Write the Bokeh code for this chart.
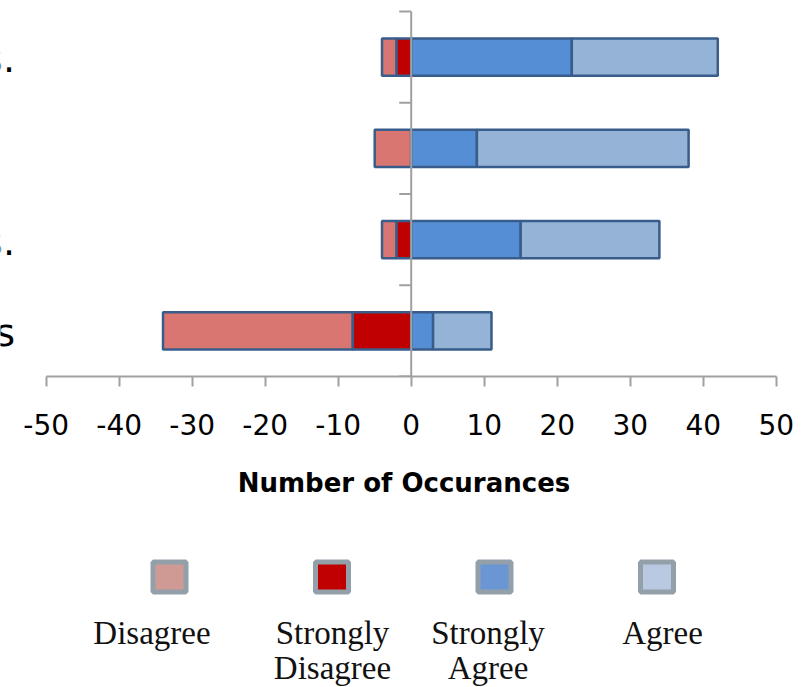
from bokeh.plotting import figure
from bokeh.models import Range1d, LinearAxis, FixedTicker, ColumnDataSource
from bokeh.layouts import column
from bokeh.embed import file_html
from bokeh.resources import INLINE
from bokeh.core.properties import value

# ---------------- data (top to bottom) ----------------
categories = ["s.", "", "s.", "s"]          # visible fragments of the (clipped) category labels
disagree = [2, 5, 2, 26]
strongly_disagree = [2, 0, 2, 8]
strongly_agree = [22, 9, 15, 3]
agree = [20, 29, 19, 8]

x_ticks = [-50, -40, -30, -20, -10, 0, 10, 20, 30, 40, 50]
x_title = "Number of Occurances"
legend_labels = ["Disagree", "Strongly\nDisagree", "Strongly\nAgree", "Agree"]

# ---------------- styles ----------------
C_D = "#d97672"
C_SD = "#c00000"
C_SA = "#558ed5"
C_A = "#95b3d7"
LEG_COLORS = ["#cf9a93", "#c00000", "#6a96d4", "#b9c9e2"]
OUTLINE = "#385d8a"
AXIS_C = "#a0a0a0"

W = 807
AX_L, AX_W = 45.7, 730          # pixel span of the -50..50 axis
PAD_T = 2                       # px above the top category boundary
FRAME_T, CAT_H = 9, 367         # frame top, height of the category area
BOTTOM = 145
H_MAIN = FRAME_T + PAD_T + CAT_H + BOTTOM - PAD_T
H_LEG = 687 - H_MAIN

n = len(categories)
ypos = [n - i - 0.5 for i in range(n)]
px_x = AX_W / (x_ticks[-1] - x_ticks[0])
px_y = CAT_H / n

src = ColumnDataSource(dict(
    y=ypos,
    d_l=[-(sd + d) for d, sd in zip(disagree, strongly_disagree)],
    d_r=[-sd for sd in strongly_disagree],
    sd_l=[-sd for sd in strongly_disagree],
    zero=[0] * n,
    sa_r=strongly_agree,
    a_r=[sa + a for sa, a in zip(strongly_agree, agree)],
))

x_start = x_ticks[0] - AX_L / px_x
x_end = x_ticks[-1] + (W - AX_L - AX_W) / px_x
p = figure(width=W, height=H_MAIN, output_backend="svg", toolbar_location=None,
           x_range=Range1d(x_start, x_end), y_range=Range1d(0, n + PAD_T / px_y),
           x_axis_location=None, y_axis_location=None,
           min_border_left=0, min_border_right=0,
           min_border_top=FRAME_T, min_border_bottom=BOTTOM)
p.outline_line_color = None
p.xgrid.visible = False
p.ygrid.visible = False

BAR_H = 0.41
kw = dict(height=BAR_H, line_color=OUTLINE, line_width=2.5, source=src)
p.hbar(y="y", left="d_l", right="d_r", fill_color=C_D, **kw)
p.hbar(y="y", left="sd_l", right="zero", fill_color=C_SD, **kw)
p.hbar(y="y", left="zero", right="sa_r", fill_color=C_SA, **kw)
p.hbar(y="y", left="sa_r", right="a_r", fill_color=C_A, **kw)

# vertical axis line at x = 0 with outward ticks at category boundaries
bounds = list(range(n + 1))
p.segment(x0=[0], y0=[0], x1=[0], y1=[n], line_color=AXIS_C, line_width=2)
p.segment(x0=[-12 / px_x] * len(bounds), y0=bounds, x1=[0] * len(bounds), y1=bounds,
          line_color=AXIS_C, line_width=2)

# bottom axis (limited to -50..50)
xa = LinearAxis(ticker=FixedTicker(ticks=x_ticks, minor_ticks=[]), bounds=(x_ticks[0], x_ticks[-1]))
xa.major_label_overrides = {t: str(t) for t in x_ticks}
xa.axis_line_color = AXIS_C
xa.axis_line_width = 2
xa.major_tick_line_color = AXIS_C
xa.major_tick_line_width = 2
xa.major_tick_out = 10
xa.major_tick_in = 0
xa.minor_tick_line_color = None
xa.major_label_text_font = "DejaVu Sans"
xa.major_label_text_font_size = "28px"
xa.major_label_text_color = "#000000"
xa.major_label_standoff = 27
xa.axis_label = x_title
xa.axis_label_text_font = "DejaVu Sans"
xa.axis_label_text_font_size = "26px"
xa.axis_label_text_font_style = "bold"
xa.axis_label_text_color = "#000000"
xa.axis_label_standoff = 30
p.add_layout(xa, "below")

# clipped category labels on the far left
lab_x = x_start + 14.5 / px_x
lab_y = [yy - 2 / px_y for yy in ypos]
p.text(x=[lab_x] * n, y=lab_y, text=categories, text_align="right",
       text_baseline="alphabetic", text_font=value("DejaVu Sans"),
       text_font_size="38px", text_color="#000000")

# ---------------- legend figure (page-pixel coords) ----------------
lg = figure(width=W, height=H_LEG, output_backend="svg", toolbar_location=None,
            x_range=Range1d(0, W), y_range=Range1d(H_MAIN + H_LEG, H_MAIN),
            x_axis_location=None, y_axis_location=None,
            min_border_left=0, min_border_right=0,
            min_border_top=0, min_border_bottom=0)
lg.outline_line_color = None
lg.xgrid.visible = False
lg.ygrid.visible = False

sw_x = [169, 331.5, 494, 656.5]
sw_y = 576.5
tx_x = [151.5, 332, 487.5, 662]
tx_y = 632
lg.rect(x=sw_x, y=[sw_y] * 4, width=33, height=30, width_units="screen", height_units="screen",
        fill_color=LEG_COLORS, line_color="#939fa9", line_width=5)
for lab, tx in zip(legend_labels, tx_x):
    for j, line in enumerate(lab.split("\n")):
        lg.text(x=[tx], y=[tx_y + 35 * j], text=[line], text_align="center",
                text_baseline="alphabetic", text_font=value("Liberation Serif"),
                text_font_size="33px", text_color="#111111")

layout = column(p, lg, spacing=0)
open("out.html", "w").write(file_html(layout, INLINE))
